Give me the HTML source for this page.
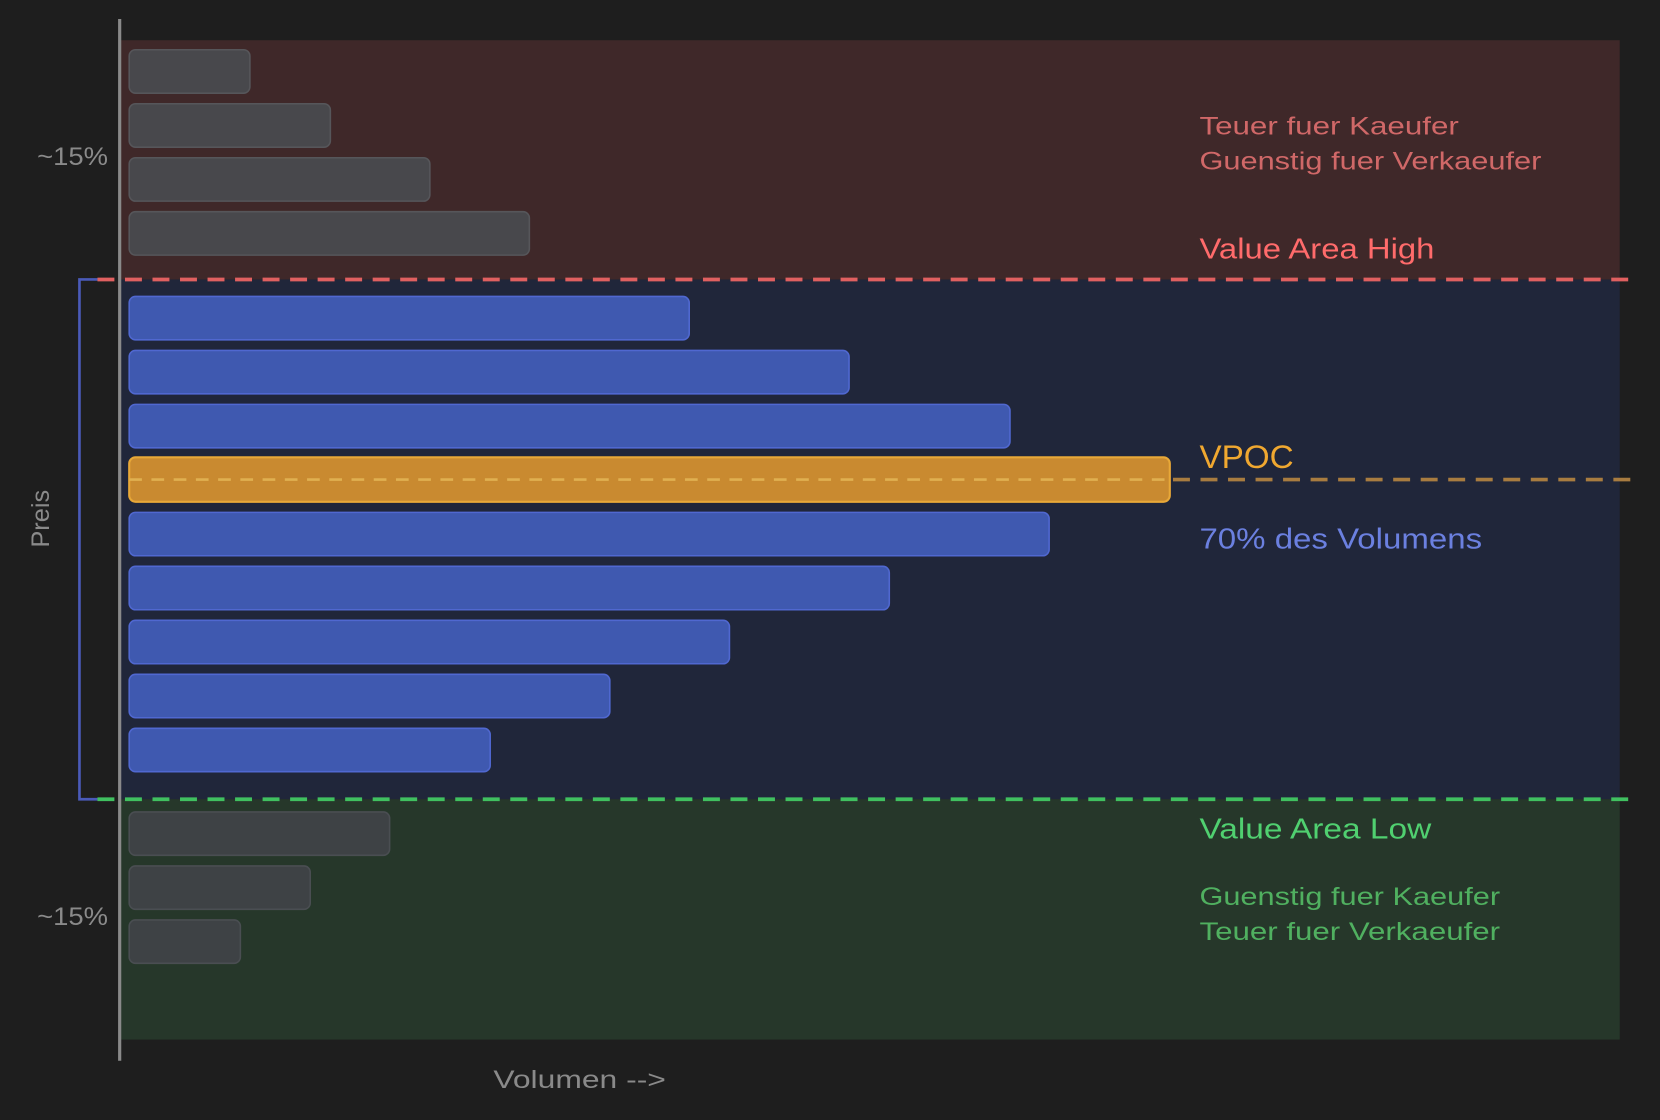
<!DOCTYPE html>
<html><head><meta charset="utf-8"><style>
html,body{margin:0;padding:0;background:#1e1e1e;}
svg{display:block}
text{font-family:"Liberation Sans",sans-serif;}
</style></head><body>
<svg width="1660" height="1120" viewBox="0 0 1568 1058" xmlns="http://www.w3.org/2000/svg">
<rect x="0" y="0" width="1568" height="1058" fill="#1e1e1e"/>
<rect x="113" y="38" width="1417" height="226" fill="#3f2829"/>
<rect x="113" y="264" width="1417" height="491" fill="#20263a"/>
<rect x="113" y="755" width="1417" height="227" fill="#26372a"/>
<g fill="#48484c" stroke="#56565a" stroke-width="1.5">
<rect x="122" y="47" width="114" height="41" rx="6"/>
<rect x="122" y="98" width="190" height="41" rx="6"/>
<rect x="122" y="149" width="284" height="41" rx="6"/>
<rect x="122" y="200" width="378" height="41" rx="6"/>
</g>
<g fill="#3f59b0" stroke="#5068d0" stroke-width="1.5">
<rect x="122" y="280" width="529" height="41" rx="6"/>
<rect x="122" y="331" width="680" height="41" rx="6"/>
<rect x="122" y="382" width="832" height="41" rx="6"/>
<rect x="122" y="484" width="869" height="41" rx="6"/>
<rect x="122" y="535" width="718" height="41" rx="6"/>
<rect x="122" y="586" width="567" height="41" rx="6"/>
<rect x="122" y="637" width="454" height="41" rx="6"/>
<rect x="122" y="688" width="341" height="41" rx="6"/>
</g>
<rect x="122" y="432" width="983" height="42" rx="6" fill="#c98a30" stroke="#e8a838" stroke-width="2"/>
<g fill="#3e4245" stroke="#4a4e52" stroke-width="1.5">
<rect x="122" y="767" width="246" height="41" rx="6"/>
<rect x="122" y="818" width="171" height="41" rx="6"/>
<rect x="122" y="869" width="105" height="41" rx="6"/>
</g>
<line x1="113" y1="18" x2="113" y2="1002" stroke="#8a8a8a" stroke-width="3"/>
<polyline points="92,264 75,264 75,755 92,755" fill="none" stroke="#4a5ab8" stroke-width="2.5"/>
<line x1="92" y1="264" x2="1540" y2="264" stroke="#e06060" stroke-width="3.5" stroke-dasharray="16,10"/>
<line x1="92" y1="755" x2="1540" y2="755" stroke="#40c060" stroke-width="3.5" stroke-dasharray="16,10"/>
<line x1="122" y1="453" x2="1105" y2="453" stroke="#e0b050" stroke-width="2.5" stroke-dasharray="12,9"/>
<line x1="1108" y1="453" x2="1540" y2="453" stroke="#a87c40" stroke-width="3.5" stroke-dasharray="16,10"/>
<g fill="#8a8a8a" font-size="24">
<text x="35" y="156" textLength="67" lengthAdjust="spacingAndGlyphs">~15%</text>
<text x="35" y="874" textLength="67" lengthAdjust="spacingAndGlyphs">~15%</text>
<text x="466" y="1028" textLength="163" lengthAdjust="spacingAndGlyphs">Volumen --&gt;</text>
<text transform="translate(46,490) rotate(-90)" text-anchor="middle">Preis</text>
</g>
<g font-size="24">
<text x="1133" y="127" fill="#d06868" textLength="245" lengthAdjust="spacingAndGlyphs">Teuer fuer Kaeufer</text>
<text x="1133" y="160" fill="#d06868" textLength="323" lengthAdjust="spacingAndGlyphs">Guenstig fuer Verkaeufer</text>
<text x="1133" y="244" fill="#ff6b6b" font-size="27" textLength="222" lengthAdjust="spacingAndGlyphs">Value Area High</text>
<text x="1133" y="442" fill="#f0a830" font-size="31" textLength="89" lengthAdjust="spacingAndGlyphs">VPOC</text>
<text x="1133" y="518" fill="#6b80e0" font-size="27" textLength="267" lengthAdjust="spacingAndGlyphs">70% des Volumens</text>
<text x="1133" y="792" fill="#50d070" font-size="27" textLength="219" lengthAdjust="spacingAndGlyphs">Value Area Low</text>
<text x="1133" y="855" fill="#50b060" textLength="284" lengthAdjust="spacingAndGlyphs">Guenstig fuer Kaeufer</text>
<text x="1133" y="888" fill="#50b060" textLength="284" lengthAdjust="spacingAndGlyphs">Teuer fuer Verkaeufer</text>
</g>
</svg>
</body></html>
